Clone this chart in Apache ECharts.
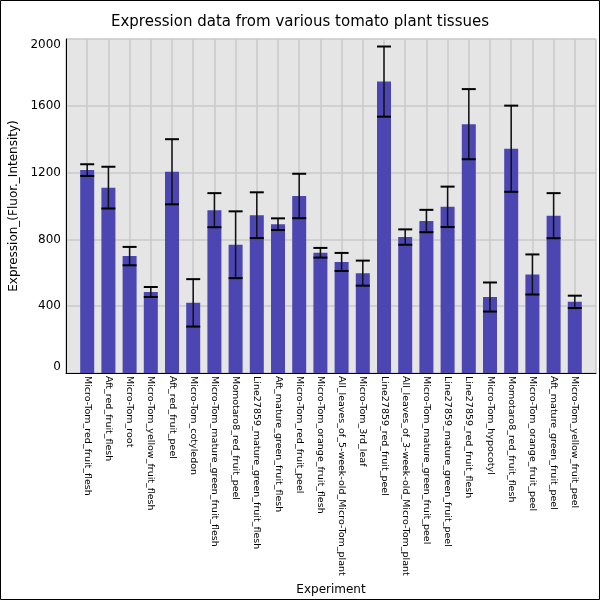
<!DOCTYPE html>
<html>
<head>
<meta charset="utf-8">
<script src="https://cdn.jsdelivr.net/npm/echarts@6/dist/echarts.min.js"></script>
<style>
html,body{margin:0;padding:0;background:#fff;}
#c{width:600px;height:600px;}
</style>
</head>
<body>
<div id="c"></div>
<script>
var categories = [
  'Micro-Tom_red_fruit_flesh','Aft_red_fruit_flesh','Micro-Tom_root','Micro-Tom_yellow_fruit_flesh',
  'Aft_red_fruit_peel','Micro-Tom_cotyledon','Micro-Tom_mature_green_fruit_flesh','Momotaro8_red_fruit_peel',
  'Line27859_mature_green_fruit_flesh','Aft_mature_green_fruit_flesh','Micro-Tom_red_fruit_peel','Micro-Tom_orange_fruit_flesh',
  'All_leaves_of_5-week-old_Micro-Tom_plant','Micro-Tom_3rd_leaf','Line27859_red_fruit_peel','All_leaves_of_3-week-old_Micro-Tom_plant',
  'Micro-Tom_mature_green_fruit_peel','Line27859_mature_green_fruit_peel','Line27859_red_fruit_flesh','Micro-Tom_hypocotyl',
  'Momotaro8_red_fruit_flesh','Micro-Tom_orange_fruit_peel','Aft_mature_green_fruit_peel','Micro-Tom_yellow_fruit_peel'
];
var means = [1215,1110,700,485,1205,420,975,768,945,891,1060,720,665,598,1745,814,910,995,1490,455,1343,590,942,426];
var errors = [35,125,55,30,195,142,102,200,137,35,133,29,54,75,210,46,67,121,210,87,258,120,135,37];
var yTicks = [0,400,800,1200,1600,2000];

// pad category axis with an empty slot at each end
var axisCats = [''].concat(categories).concat(['']);
var barData = [null].concat(means).concat([null]);
var errData = categories.map(function(c, i){ return [i + 1, means[i] - errors[i], means[i] + errors[i]]; });

var chart = echarts.init(document.getElementById('c'), null, {renderer:'canvas'});
chart.setOption({
  animation: false,
  backgroundColor: '#ffffff',
  title: {
    text: 'Expression data from various tomato plant tissues',
    left: 'center', top: 10,
    textStyle: {fontFamily: 'DejaVu Sans', fontSize: 15, fontWeight: 'normal', color: '#000'}
  },
  graphic: [{
    type: 'rect', shape: {x: 0.5, y: 0.5, width: 599, height: 599},
    style: {fill: 'none', stroke: '#000', lineWidth: 1}, z: 100
  }],
  grid: {
    left: 66, right: 4, top: 39, bottom: 227,
    containLabel: false, outerBoundsMode: 'none',
    show: true, backgroundColor: '#e5e5e5', borderWidth: 0
  },
  xAxis: {
    type: 'category', data: axisCats, boundaryGap: false,
    name: 'Experiment', nameLocation: 'middle', nameGap: 202,
    nameTextStyle: {fontFamily: 'DejaVu Sans', fontSize: 12, color: '#000'},
    axisLine: {show: true, lineStyle: {color: '#000', width: 1}},
    axisTick: {show: false},
    axisLabel: {interval: 0, rotate: -90, margin: 3, fontFamily: 'DejaVu Sans', fontSize: 9.5, color: '#000'},
    splitLine: {show: true, interval: 0, lineStyle: {color: '#c8c8c8', width: 1.5}}
  },
  yAxis: {
    type: 'value', min: yTicks[0], max: yTicks[yTicks.length - 1], interval: 400,
    name: 'Expression_(Fluor._Intensity)', nameLocation: 'middle', nameGap: 36,
    nameTextStyle: {fontFamily: 'DejaVu Sans', fontSize: 12, color: '#000'},
    axisLine: {show: true, lineStyle: {color: '#000', width: 1}},
    axisTick: {show: false},
    axisLabel: {margin: 5, fontFamily: 'DejaVu Sans', fontSize: 12, color: '#000',
      formatter: function(v){ return String(v); },
      verticalAlignMinLabel: 'bottom', verticalAlignMaxLabel: 'top'},
    splitLine: {show: true, lineStyle: {color: '#c8c8c8', width: 1.5}}
  },
  series: [
    {
      type: 'bar', data: barData, barWidth: 14,
      itemStyle: {color: '#4b46b2'}, z: 2
    },
    {
      type: 'custom', data: errData, z: 3,
      encode: {x: 0, y: [1, 2]},
      renderItem: function(params, api){
        var x = api.value(0);
        var lo = api.coord([x, api.value(1)]);
        var hi = api.coord([x, api.value(2)]);
        var hw = 7;
        return {
          type: 'group',
          children: [
            {type: 'line', shape: {x1: lo[0], y1: lo[1], x2: hi[0], y2: hi[1]}, style: {stroke: '#111', lineWidth: 1.5}},
            {type: 'line', shape: {x1: hi[0] - hw, y1: hi[1], x2: hi[0] + hw, y2: hi[1]}, style: {stroke: '#000', lineWidth: 2}},
            {type: 'line', shape: {x1: lo[0] - hw, y1: lo[1], x2: lo[0] + hw, y2: lo[1]}, style: {stroke: '#000', lineWidth: 2}}
          ]
        };
      }
    }
  ]
});
</script>
</body>
</html>
